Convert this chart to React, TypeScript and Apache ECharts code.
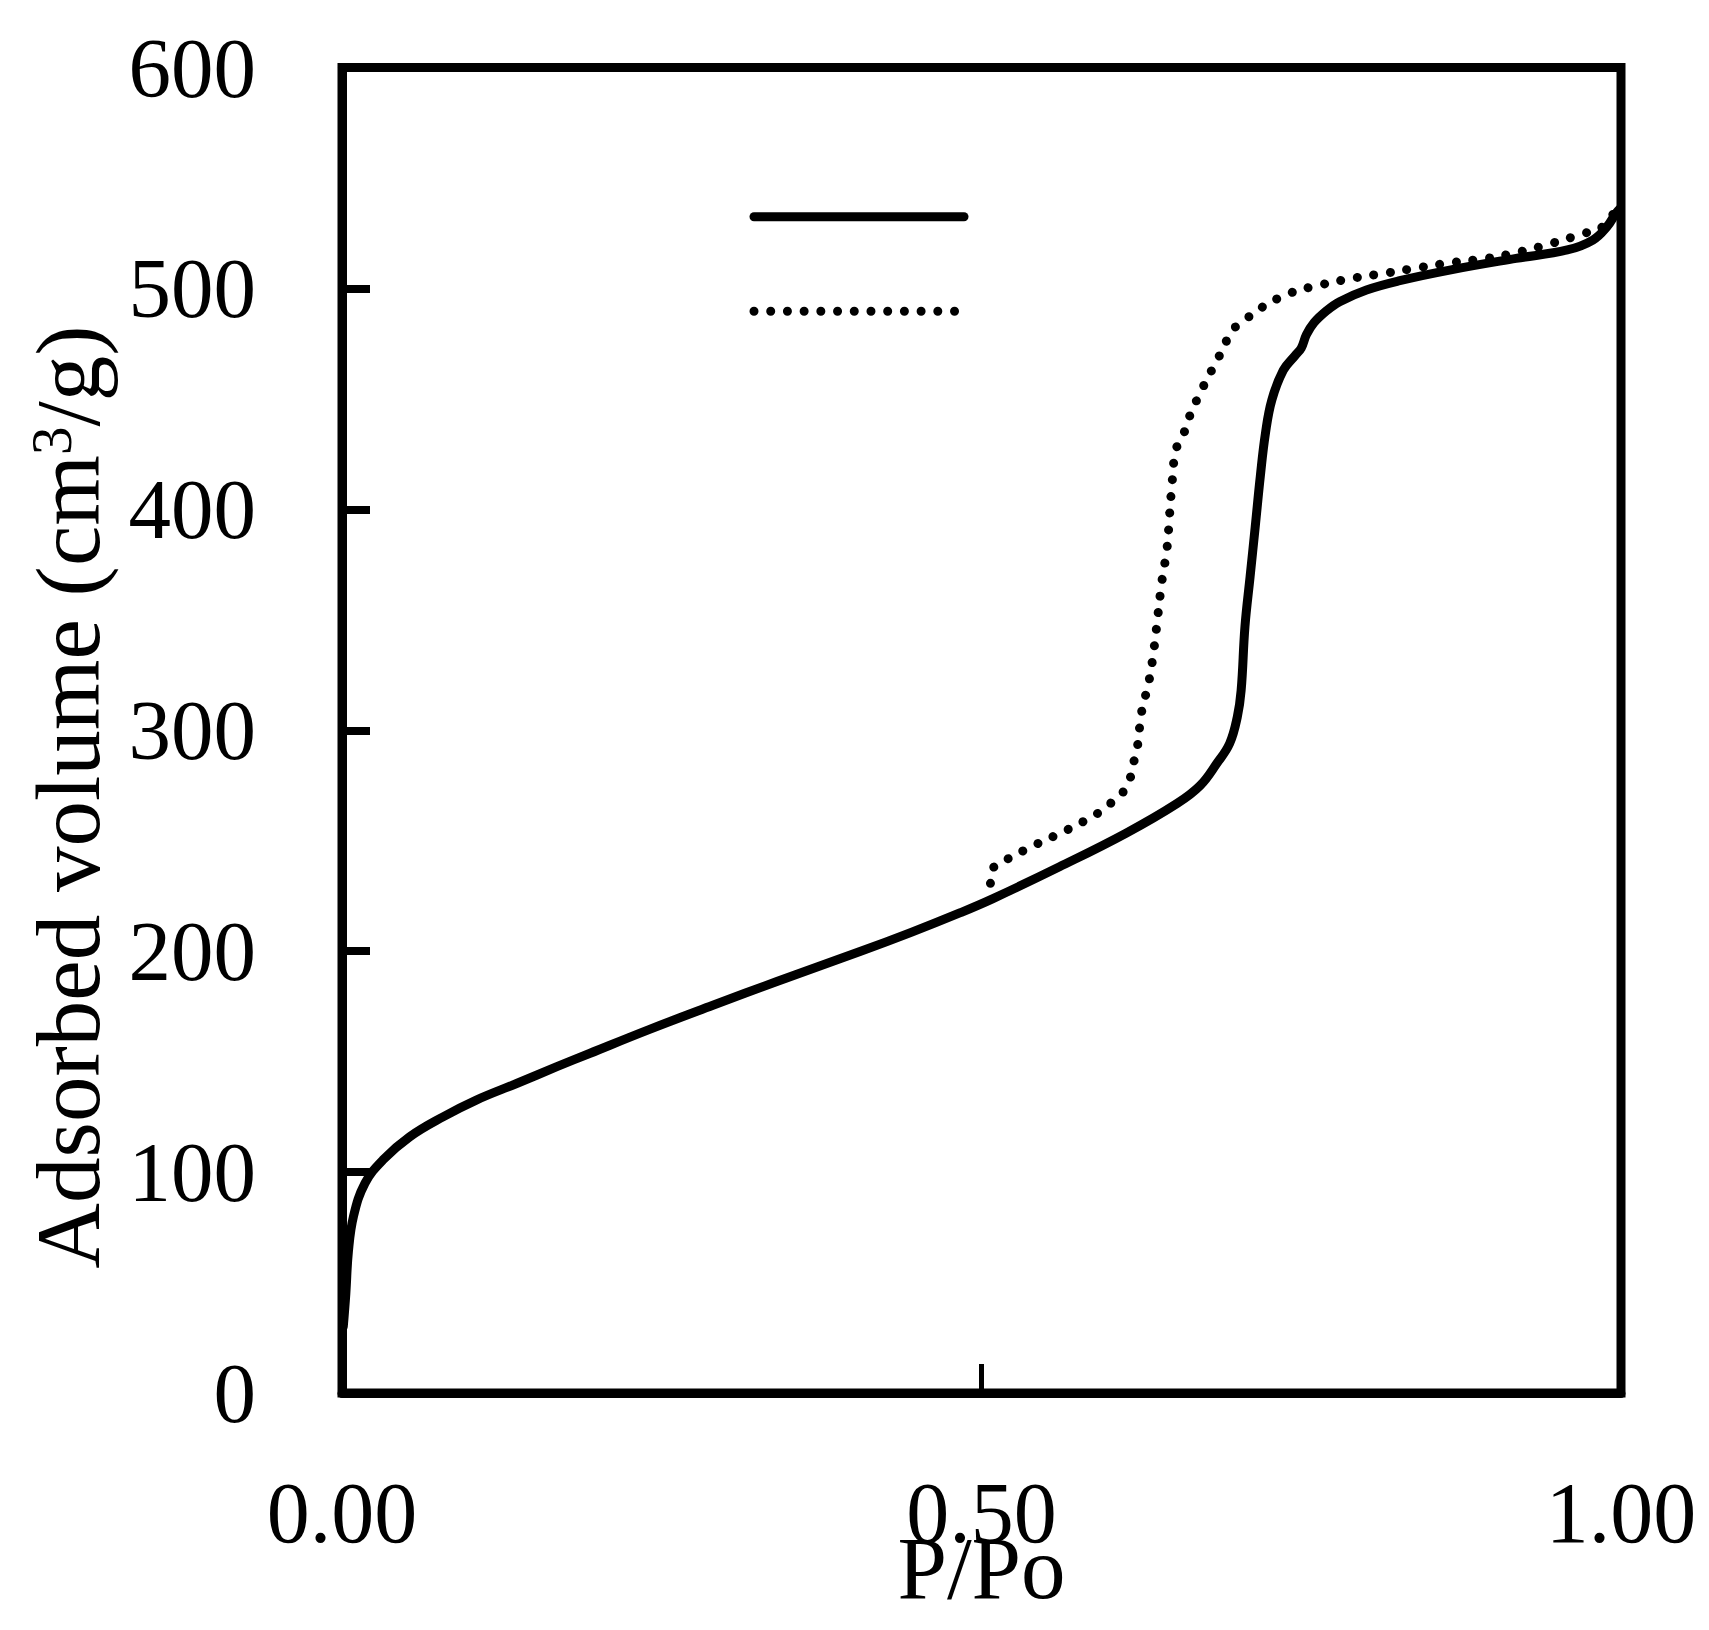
import React, { useEffect, useRef } from "react";
import * as echarts from "echarts";

const FONT = "'Liberation Serif', 'Times New Roman', serif";

const seriesNames = ["Adsorption", "Desorption"];
const xAxisTitle = "P/Po";
const yAxisTitleMain = "Adsorbed volume (cm";
const yAxisTitleSup = "3";
const yAxisTitleEnd = "/g)";

const xMin = 0;
const xMax = 1;
const xInterval = 0.5;
const yMin = 0;
const yMax = 600;
const yInterval = 100;

const adsorptionP = [
  0.001, 0.003, 0.005, 0.009, 0.018, 0.032, 0.053, 0.079, 0.105, 0.137, 0.168,
  0.194, 0.24, 0.29, 0.34, 0.405, 0.445, 0.483, 0.509, 0.561, 0.613,
  0.653, 0.671, 0.684, 0.694, 0.7, 0.703, 0.706, 0.71, 0.714, 0.718, 0.722,
  0.727, 0.736, 0.745, 0.75, 0.754, 0.76, 0.77, 0.78, 0.801, 0.827, 0.866,
  0.918, 0.958, 0.978, 0.989, 0.996, 0.999,
];
const adsorptionV = [
  30, 45, 64, 80, 95, 105.5, 116, 125, 132.6, 140.2, 147.7, 153.8, 164.5,
  175.5, 186.3, 199.8, 208.5, 217.3, 223.8, 238.2, 253.4, 266.9, 275, 285, 294,
  306, 318, 347, 369.5, 392, 415, 434.4, 449.5, 463, 469.5, 473, 479, 484.5,
  490, 494, 499.3, 503.5, 508.3, 513.6, 517.4, 521.9, 527.9, 534, 536,
];

const desorptionP = [
  0.507, 0.509, 0.52, 0.543, 0.567, 0.59, 0.6, 0.61, 0.616, 0.619, 0.622,
  0.625, 0.631, 0.635, 0.638, 0.641, 0.645, 0.647, 0.649, 0.652, 0.658, 0.662,
  0.673, 0.685, 0.697, 0.707, 0.718, 0.741, 0.766, 0.792, 0.817, 0.843, 0.869,
  0.895, 0.921, 0.946, 0.971, 0.984, 0.995,
];
const desorptionV = [
  230.7, 237.5, 241.6, 248.4, 254.9, 262.1, 266.5, 271.5, 278, 285.5, 293,
  307.7, 322.4, 337.5, 352.5, 367.3, 382.2, 397, 412, 426.9, 434.1, 441.2,
  455.1, 468.4, 481.5, 486.2, 491, 497.8, 501.7, 504.8, 507, 509.5, 511.8,
  513.6, 516.6, 520.4, 524.9, 527.2, 534.7,
];

const zip = (xs: number[], ys: number[]) => xs.map((x, i) => [x, ys[i]]);

const DOTS = [0.01, 16.7];

export default function App() {
  const ref = useRef<HTMLDivElement>(null);

  useEffect(() => {
    document.body.style.margin = "0";
    if (!ref.current) return;
    const chart = echarts.init(ref.current, null, { renderer: "svg" });
    const option: any = {
      animation: false,
      backgroundColor: "#ffffff",
      grid: {
        left: 342,
        right: 88,
        top: 67.5,
        bottom: 237,
        show: true,
        borderColor: "#000",
        borderWidth: 9,
        backgroundColor: "transparent",
      },
      legend: {
        orient: "vertical",
        left: 749.5,
        top: 209.7,
        padding: 0,
        itemWidth: 210,
        itemHeight: 14,
        itemGap: 82,
        selectedMode: false,
        itemStyle: { opacity: 0 },
        data: [
          {
            name: seriesNames[0],
            lineStyle: { width: 9, color: "#000", cap: "round", type: "solid" },
          },
          {
            name: seriesNames[1],
            lineStyle: { width: 9, color: "#000", cap: "round", type: DOTS },
          },
        ],
        formatter: () => "",
        textStyle: { fontSize: 10 },
      },
      xAxis: {
        type: "value",
        min: xMin,
        max: xMax,
        interval: xInterval,
        axisLine: { show: true, lineStyle: { color: "#000", width: 9 } },
        axisTick: {
          show: true,
          inside: true,
          length: 29,
          lineStyle: { color: "#000", width: 5 },
        },
        axisLabel: {
          margin: 77,
          fontSize: 86,
          fontFamily: FONT,
          color: "#000",
          formatter: (v: number) => v.toFixed(2),
        },
        splitLine: { show: false },
        name: xAxisTitle,
        nameLocation: "middle",
        nameGap: 130,
        nameMoveOverlap: false,
        nameTextStyle: { fontSize: 89, fontFamily: FONT, color: "#000" },
      },
      yAxis: {
        type: "value",
        min: yMin,
        max: yMax,
        interval: yInterval,
        axisLine: { show: true, lineStyle: { color: "#000", width: 9 } },
        axisTick: {
          show: true,
          inside: true,
          length: 28,
          lineStyle: { color: "#000", width: 8 },
        },
        axisLabel: {
          margin: 86,
          fontSize: 85,
          fontFamily: FONT,
          color: "#000",
        },
        splitLine: { show: false },
      },
      graphic: [
        {
          type: "text",
          x: 68.5,
          y: 797,
          rotation: Math.PI / 2,
          style: {
            text: `{a|${yAxisTitleMain}}{s|${yAxisTitleSup}}{a|${yAxisTitleEnd}}`,
            align: "center",
            verticalAlign: "middle",
            fill: "#000",
            rich: {
              a: { fontSize: 91, fontFamily: FONT, lineHeight: 91, fill: "#000" },
              s: {
                fontSize: 57,
                fontFamily: FONT,
                lineHeight: 57,
                verticalAlign: "top",
                fill: "#000",
              },
            },
          },
        },
      ],
      series: [
        {
          name: seriesNames[0],
          type: "line",
          data: zip(adsorptionP, adsorptionV),
          symbol: "none",
          showSymbol: false,
          smooth: 0.4,
          lineStyle: { color: "#000", width: 9, cap: "round", join: "round" },
          itemStyle: { color: "#000" },
          z: 3,
        },
        {
          name: seriesNames[1],
          type: "line",
          data: zip(desorptionP, desorptionV),
          symbol: "none",
          showSymbol: false,
          smooth: 0.4,
          lineStyle: {
            color: "#000",
            width: 9,
            type: DOTS,
            cap: "round",
            join: "round",
          },
          itemStyle: { color: "#000" },
          z: 2,
        },
      ],
    };
    chart.setOption(option);
    return () => chart.dispose();
  }, []);

  return <div ref={ref} style={{ width: 1709, height: 1630 }} />;
}
